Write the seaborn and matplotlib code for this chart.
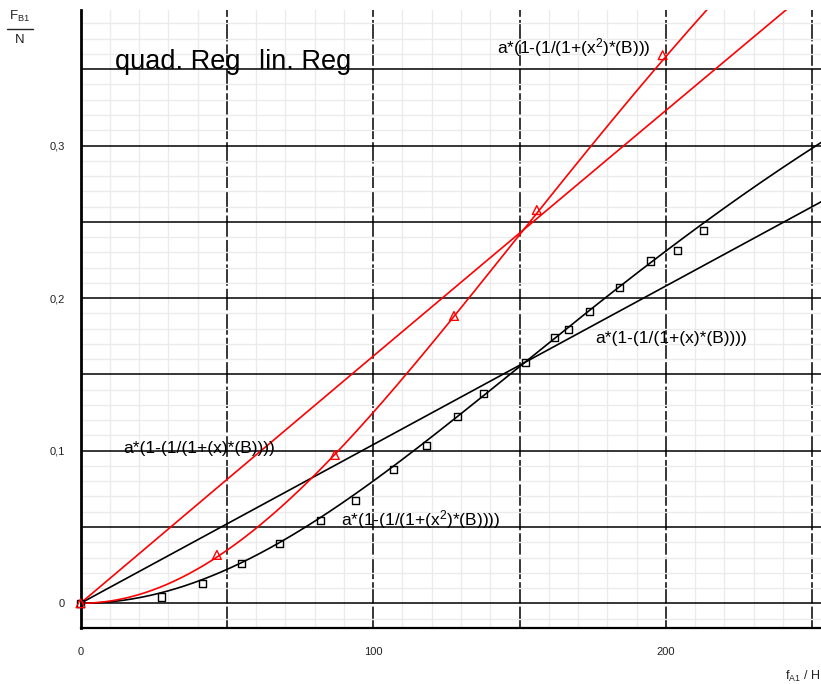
import numpy as np
import pandas as pd
import matplotlib
matplotlib.use("Agg")
import matplotlib.pyplot as plt
from matplotlib.lines import Line2D
from matplotlib.ticker import MultipleLocator, FuncFormatter
import seaborn as sns

# Measured points: driving frequency f_A1 (Hz) against force F_B1 (N)
fa1_black = [0, 27.8, 41.8, 54.9, 67.9, 82.0, 94.0, 107.0, 118.1, 128.7, 137.6,
             151.9, 161.8, 166.8, 174.0, 184.1, 194.9, 204.0, 212.9]
fb1_black = [0, 0.0041, 0.0131, 0.0258, 0.0389, 0.0543, 0.0674, 0.0878, 0.1033,
             0.1223, 0.1376, 0.1579, 0.1743, 0.1797, 0.1913, 0.2068, 0.2243,
             0.2309, 0.2442]
fa1_red = [0, 46.6, 86.9, 127.6, 155.9, 198.9]
fb1_red = [0, 0.0317, 0.0972, 0.1883, 0.2577, 0.3592]

# Regression parameters (a, B) of a*(1-(1/(1+x^n*B)))
black_quad = (0.62, 1.483e-5)
black_lin = (1000.0, 1.04e-6)
red_quad = (0.948, 1.519e-5)
red_lin = (58.0, 2.8e-5)

tick_x_labels = {0: "0", 100: "100", 200: "200"}
tick_y_labels = {0.0: "0", 0.1: "0,1", 0.2: "0,2", 0.3: "0,3"}


def model(x, params, power):
    a, b = params
    return a * (1 - (1 / (1 + (x ** power) * b)))


sns.set_style("white")
plt.rcParams["font.family"] = ["Liberation Sans", "DejaVu Sans"]
plt.rcParams["mathtext.default"] = "regular"

W, H = 821, 684
fig = plt.figure(figsize=(W / 100, H / 100), dpi=100)
left_px, right_px, top_px, bottom_px = 80.5, 821, 10, 628
ax = fig.add_axes([left_px / W, 1 - bottom_px / H,
                   (right_px - left_px) / W, (bottom_px - top_px) / H])
ax.set_xlim(0, 253.0)
ax.set_ylim(-0.0162, 0.3888)

# grid: fine grey mesh, black lines every 0.05 N and dashed lines every 50 Hz
ax.set_axisbelow(True)
ax.xaxis.set_major_locator(MultipleLocator(50))
ax.xaxis.set_minor_locator(MultipleLocator(10))
ax.yaxis.set_major_locator(MultipleLocator(0.05))
ax.yaxis.set_minor_locator(MultipleLocator(0.01))
ax.grid(which="minor", color="#ebebeb", lw=1.0)
ax.xaxis.grid(True, which="major", color="black", lw=1.1, linestyle=(0, (14, 2)))
ax.yaxis.grid(True, which="major", color="black", lw=1.1)


def xfmt(v, pos):
    return tick_x_labels.get(int(round(v)), "") if abs(v - round(v / 100) * 100) < 1e-6 else ""


def yfmt(v, pos):
    for k, s in tick_y_labels.items():
        if abs(v - k) < 1e-6:
            return s
    return ""


ax.xaxis.set_major_formatter(FuncFormatter(xfmt))
ax.yaxis.set_major_formatter(FuncFormatter(yfmt))
ax.tick_params(axis="both", which="major", direction="out", length=8, width=1.2,
               color="black", labelsize=8, labelcolor="#222222", pad=3)
ax.tick_params(axis="both", which="minor", direction="out", length=5, width=1.2,
               color="black")
ax.tick_params(axis="x", which="major", pad=6)

for side in ("top", "right"):
    ax.spines[side].set_visible(False)
ax.spines["left"].set_linewidth(2.0)
ax.spines["bottom"].set_linewidth(1.6)
ax.spines["left"].set_color("black")
ax.spines["bottom"].set_color("black")

# regression curves
xs = np.linspace(0, 253.0, 600)
curves = pd.DataFrame({
    "x": xs,
    "black_quad": model(xs, black_quad, 2),
    "black_lin": model(xs, black_lin, 1),
    "red_quad": model(xs, red_quad, 2),
    "red_lin": model(xs, red_lin, 1),
})
for col, colr in [("black_quad", "black"), ("black_lin", "black"),
                  ("red_quad", "#ff0000"), ("red_lin", "#ff0000")]:
    sns.lineplot(data=curves, x="x", y=col, color=colr, lw=1.2, ax=ax,
                 estimator=None, sort=False)

# measured points
ax.scatter(fa1_black, fb1_black, marker="s", s=26, facecolors="none",
           edgecolors="black", linewidths=1.0, zorder=5, clip_on=False)
ax.scatter(fa1_red, fb1_red, marker="^", s=40, facecolors="none",
           edgecolors="#ff0000", linewidths=1.0, zorder=5, clip_on=False)

ax.set_xlabel("")
ax.set_ylabel("")


def ptext(px, py, s, size, **kw):
    kw.setdefault("color", "black")
    fig.text(px / W, 1 - py / H, s, fontsize=size, va="baseline", **kw)


ptext(115, 69, "quad. Reg", 19.5)
ptext(259, 69, "lin. Reg", 19.5)
ptext(497, 53, "a*(1-(1/(1+(x$^2$)*(B)))", 12.5)
ptext(123, 453, "a*(1-(1/(1+(x)*(B))))", 12.5)
ptext(341, 525, "a*(1-(1/(1+(x$^2$)*(B))))", 12.5)
ptext(595, 343, "a*(1-(1/(1+(x)*(B))))", 12.5)

# axis quantities
ptext(20, 20, "F$_{B1}$", 9.5, ha="center", color="#222222")
fig.add_artist(Line2D([7 / W, 33 / W], [1 - 29 / H, 1 - 29 / H], color="#222222", lw=1.0))
ptext(20, 43, "N", 9.5, ha="center", color="#222222")
ptext(820, 680, "f$_{A1}$ / H", 9, ha="right", color="#222222")

fig.savefig("out.png", dpi=100)
